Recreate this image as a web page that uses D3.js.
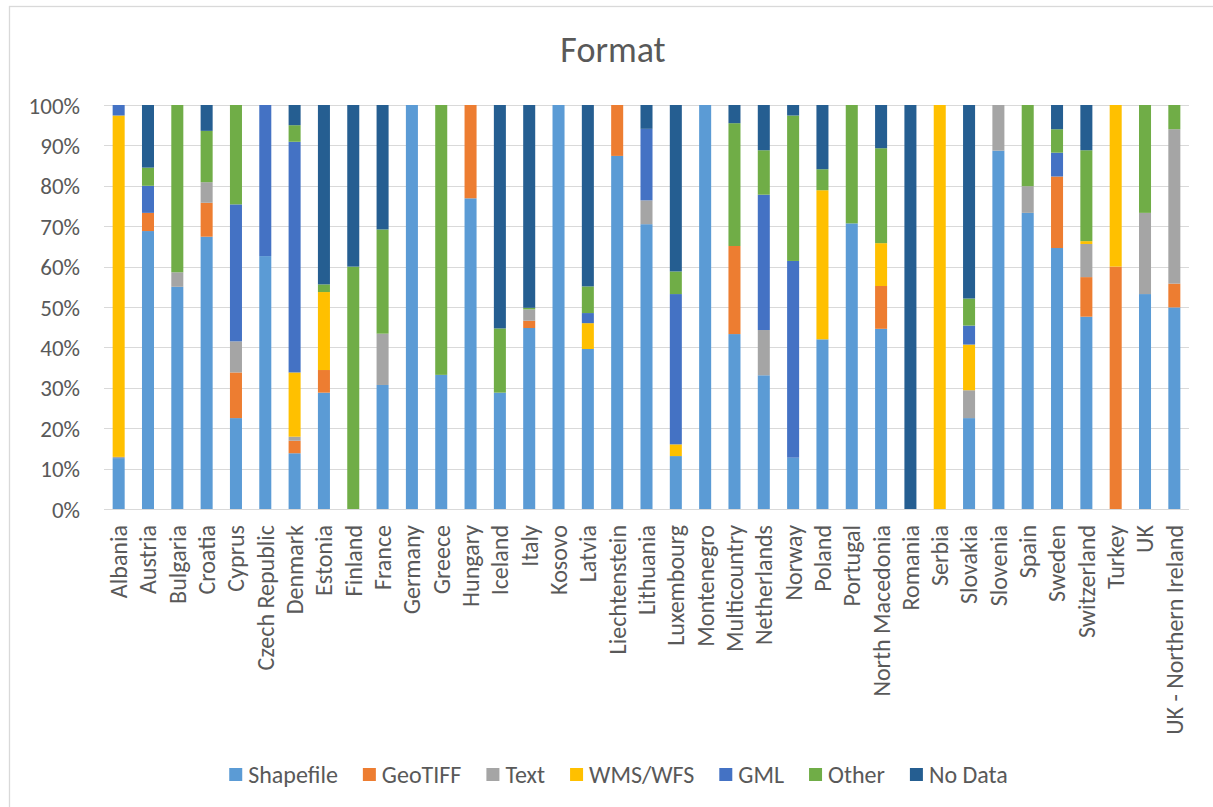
<!DOCTYPE html>
<html>

<head>
    <meta charset="utf-8">
    <script src="https://cdn.jsdelivr.net/npm/d3@7/dist/d3.min.js"></script>
    <style>
        body {
            margin: 0;
            background: #fff;
        }

        svg text {
            font-family: Carlito, Lato, sans-serif;
            fill: #595959;
        }

        .grid line {
            stroke: #d9d9d9;
            stroke-width: 1;
        }
    </style>
</head>

<body>
    <svg width="1213" height="807"></svg>
    <script>
        //Categories
        var countries = ["Albania", "Austria", "Bulgaria", "Croatia", "Cyprus", "Czech Republic", "Denmark",
            "Estonia", "Finland", "France", "Germany", "Greece", "Hungary", "Iceland", "Italy", "Kosovo",
            "Latvia", "Liechtenstein", "Lithuania", "Luxembourg", "Montenegro", "Multicountry", "Netherlands",
            "Norway", "Poland", "Portugal", "North Macedonia", "Romania", "Serbia", "Slovakia", "Slovenia",
            "Spain", "Sweden", "Switzerland", "Turkey", "UK", "UK - Northern Ireland"];

        //Series values (percent), same order as countries
        var shapefile = [12.6, 68.8, 55.0, 67.4, 22.5, 62.6, 13.8, 28.8, 0, 30.7, 100, 33.2, 76.9, 28.8, 44.8, 100,
            39.6, 87.4, 70.5, 13.1, 100, 43.3, 33.1, 12.7, 42.0, 70.7, 44.6, 0, 0, 22.5, 88.7, 73.3, 64.6, 47.6, 0, 53.2, 50.0];
        var geotiff = [0, 4.5, 0, 8.4, 11.3, 0, 3.1, 5.6, 0, 0, 0, 0, 23.1, 0, 1.8, 0,
            0, 12.6, 0, 0, 0, 21.8, 0, 0, 0, 0, 10.6, 0, 0, 0, 0, 0, 17.7, 9.8, 60, 0, 5.9];
        var text = [0.3, 0, 3.6, 5.1, 7.7, 0, 1.0, 0, 0, 12.7, 0, 0, 0, 0, 2.8, 0,
            0, 0, 5.9, 0, 0, 0, 11.2, 0, 0, 0, 0, 0, 0, 6.9, 11.3, 6.6, 0, 8.2, 0, 20.1, 38.3];
        var wmsWfs = [84.5, 0, 0, 0, 0, 0, 15.9, 19.3, 0, 0, 0, 0, 0, 0, 0, 0,
            6.4, 0, 0, 2.9, 0, 0, 0, 0, 36.9, 0, 10.6, 0, 100, 11.3, 0, 0, 0, 0.7, 40, 0, 0];
        var gml = [2.6, 6.7, 0, 0, 33.9, 37.4, 57.1, 0, 0, 0, 0, 0, 0, 0, 0, 0,
            2.5, 0, 17.7, 37.2, 0, 0, 33.5, 48.7, 0, 0, 0, 0, 0, 4.7, 0, 0, 5.9, 0, 0, 0, 0];
        var other = [0, 4.5, 41.4, 12.7, 24.6, 0, 4.1, 1.9, 60, 25.8, 0, 66.8, 0, 15.9, 0.4, 0,
            6.6, 0, 0, 5.6, 0, 30.4, 11.0, 36.0, 5.2, 29.3, 23.5, 0, 0, 6.7, 0, 20.1, 5.8, 22.5, 0, 26.7, 6.0];
        var noData = [0, 15.5, 0, 6.4, 0, 0, 5.0, 44.4, 40, 30.8, 0, 0, 0, 55.3, 50.2, 0,
            44.9, 0, 5.9, 41.2, 0, 4.5, 11.2, 2.6, 15.9, 0, 10.7, 100, 0, 47.9, 0, 0, 6.0, 11.2, 0, 0, 0];

        var seriesNames = ["Shapefile", "GeoTIFF", "Text", "WMS/WFS", "GML", "Other", "No Data"];
        var seriesValues = [shapefile, geotiff, text, wmsWfs, gml, other, noData];
        var colors = ["#5b9bd5", "#ed7d31", "#a5a5a5", "#ffc000", "#4472c4", "#70ad47", "#255e91"];

        var yTicks = [0, 0.1, 0.2, 0.3, 0.4, 0.5, 0.6, 0.7, 0.8, 0.9, 1];

        //Build rows for d3.stack
        var rows = countries.map(function(c, i) {
            var row = { country: c };
            seriesNames.forEach(function(s, k) {
                row[s] = seriesValues[k][i];
            });
            return row;
        });

        var svg = d3.select("svg");
        var plot = { left: 104, right: 1189, top: 105, bottom: 509 };

        //chart frame
        svg.append("rect")
            .attr("x", 9.5)
            .attr("y", 6.5)
            .attr("width", 1240)
            .attr("height", 840)
            .attr("fill", "#fff")
            .attr("stroke", "#d9d9d9")
            .attr("stroke-width", 1.3);

        var x = d3.scaleBand()
            .domain(countries)
            .range([plot.left, plot.right])
            .paddingInner(0.59)
            .paddingOuter(0.295);

        var y = d3.scaleLinear()
            .domain([0, 1])
            .range([plot.bottom, plot.top]);

        var color = d3.scaleOrdinal().domain(seriesNames).range(colors);

        //gridlines
        svg.append("g")
            .attr("class", "grid")
            .selectAll("line")
            .data(yTicks)
            .enter().append("line")
            .attr("x1", plot.left)
            .attr("x2", plot.right)
            .attr("y1", function(d) { return Math.round(y(d)) + 0.5; })
            .attr("y2", function(d) { return Math.round(y(d)) + 0.5; });

        //y axis labels
        var yAxis = svg.append("g")
            .attr("transform", "translate(80,0)")
            .call(d3.axisLeft(y).tickValues(yTicks).tickFormat(d3.format(".0%")).tickSize(0).tickPadding(0));
        yAxis.select(".domain").remove();
        yAxis.selectAll("text")
            .attr("fill", "#595959")
            .style("font-size", "23px")
            .attr("dy", "0.35em");

        //stacked bars
        var stack = d3.stack().keys(seriesNames).offset(d3.stackOffsetExpand);
        var layers = stack(rows);

        svg.append("g")
            .selectAll("g")
            .data(layers)
            .enter().append("g")
            .attr("fill", function(d) { return color(d.key); })
            .selectAll("rect")
            .data(function(d) { return d; })
            .enter().append("rect")
            .attr("x", function(d) { return x(d.data.country); })
            .attr("y", function(d) { return y(d[1]); })
            .attr("width", x.bandwidth())
            .attr("height", function(d) { return Math.max(0, y(d[0]) - y(d[1])); });

        //x axis labels (rotated)
        var xAxis = svg.append("g")
            .attr("transform", "translate(0," + (plot.bottom + 16) + ")")
            .call(d3.axisBottom(x).tickSize(0).tickPadding(0));
        xAxis.select(".domain").remove();
        xAxis.selectAll("text")
            .attr("fill", "#595959")
            .style("font-size", "24px")
            .attr("text-anchor", "end")
            .attr("transform", "rotate(-90)")
            .attr("x", 0)
            .attr("y", 0)
            .attr("dy", "0.35em");

        //title
        svg.append("text")
            .attr("x", 613)
            .attr("y", 62)
            .attr("text-anchor", "middle")
            .style("font-size", "36px")
            .text("Format");

        //legend - lay out items from measured text widths, then center
        var legend = svg.append("g");
        var lx = 0;
        seriesNames.forEach(function(s) {
            var item = legend.append("g").attr("transform", "translate(" + lx + ",0)");
            item.append("rect")
                .attr("x", 0)
                .attr("y", -7)
                .attr("width", 13)
                .attr("height", 13)
                .attr("fill", color(s));
            var t = item.append("text")
                .attr("x", 19)
                .attr("y", 0)
                .attr("dy", "0.35em")
                .style("font-size", "24px")
                .text(s);
            lx += 19 + t.node().getComputedTextLength() + 25;
        });
        lx -= 25;
        legend.attr("transform", "translate(" + (618.5 - lx / 2) + ",775)");
    </script>
</body>

</html>
